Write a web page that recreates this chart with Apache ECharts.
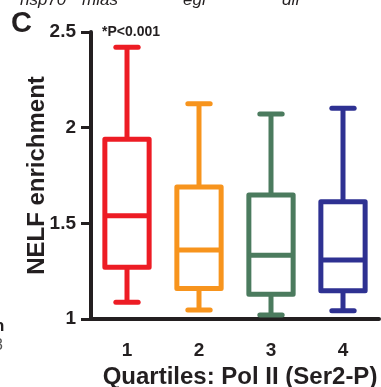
<!DOCTYPE html>
<html>
<head>
<meta charset="utf-8">
<script src="https://cdn.jsdelivr.net/npm/echarts@6/dist/echarts.min.js"></script>
<style>
html,body{margin:0;padding:0;background:#fff;}
#chart{width:381px;height:387px;}
</style>
</head>
<body>
<div id="chart"></div>
<script>
const categories = ['1', '2', '3', '4'];
const lowerWhisker = [1.087, 1.047, 1.021, 1.043];
const q1Values = [1.27, 1.16, 1.13, 1.148];
const medianValues = [1.54, 1.36, 1.333, 1.308];
const q3Values = [1.94, 1.69, 1.648, 1.613];
const upperWhisker = [2.42, 2.125, 2.071, 2.102];
const boxColors = ['#ED1C24', '#F7941D', '#4B7B5E', '#2E3192'];
const yTickLabels = ['1', '1.5', '2', '2.5'];

const FONT = '"Liberation Sans", Arial, sans-serif';
const AXIS_COLOR = '#231F20';

const chart = echarts.init(document.getElementById('chart'), null, {renderer: 'canvas'});

const seriesData = categories.map((c, i) => [i, lowerWhisker[i], q1Values[i], medianValues[i], q3Values[i], upperWhisker[i]]);

function renderItem(params, api) {
  const i = api.value(0);
  const color = boxColors[i];
  const lo = api.coord([i, api.value(1)]);
  const q1 = api.coord([i, api.value(2)]);
  const med = api.coord([i, api.value(3)]);
  const q3 = api.coord([i, api.value(4)]);
  const hi = api.coord([i, api.value(5)]);
  const band = api.size([1, 0])[0];
  const boxW = band * 0.615;
  const capW = band * 0.31;
  const cx = lo[0];
  const lw = 5;
  const st = {stroke: color, lineWidth: lw, fill: 'none', lineJoin: 'round'};
  const stCap = {stroke: color, lineWidth: lw, lineCap: 'round'};
  return {
    type: 'group',
    children: [
      {type: 'line', shape: {x1: cx, y1: q3[1], x2: cx, y2: hi[1]}, style: st},
      {type: 'line', shape: {x1: cx, y1: q1[1], x2: cx, y2: lo[1]}, style: st},
      {type: 'line', shape: {x1: cx - capW / 2, y1: hi[1], x2: cx + capW / 2, y2: hi[1]}, style: stCap},
      {type: 'line', shape: {x1: cx - capW / 2, y1: lo[1], x2: cx + capW / 2, y2: lo[1]}, style: stCap},
      {type: 'rect', shape: {x: cx - boxW / 2, y: q3[1], width: boxW, height: q1[1] - q3[1]}, style: st},
      {type: 'line', shape: {x1: cx - boxW / 2, y1: med[1], x2: cx + boxW / 2, y2: med[1]}, style: st}
    ]
  };
}

const option = {
  backgroundColor: '#ffffff',
  animation: false,
  grid: {left: 91, right: 2, top: 32, bottom: 68, containLabel: false, outerBoundsMode: 'none'},
  xAxis: {
    type: 'category',
    data: categories,
    name: 'Quartiles: Pol II (Ser2-P)',
    nameLocation: 'middle',
    nameGap: 46,
    nameTextStyle: {fontFamily: FONT, fontWeight: 'bold', fontSize: 24, color: AXIS_COLOR, padding: [0, 0, 0, 10]},
    axisLine: {lineStyle: {color: AXIS_COLOR, width: 4}},
    axisTick: {alignWithLabel: true, length: 12, lineStyle: {color: AXIS_COLOR, width: 4}},
    axisLabel: {fontFamily: FONT, fontWeight: 'bold', fontSize: 19, color: AXIS_COLOR, margin: 22},
    splitLine: {show: false}
  },
  yAxis: {
    type: 'value',
    min: 1,
    max: 2.5,
    interval: 0.5,
    name: 'NELF enrichment',
    nameLocation: 'middle',
    nameGap: 42,
    nameMoveOverlap: false,
    nameTextStyle: {fontFamily: FONT, fontWeight: 'bold', fontSize: 24, color: AXIS_COLOR},
    axisLine: {show: true, lineStyle: {color: AXIS_COLOR, width: 4}},
    axisTick: {show: true, length: 10, lineStyle: {color: AXIS_COLOR, width: 3}},
    axisLabel: {
      fontFamily: FONT, fontWeight: 'bold', fontSize: 19, color: AXIS_COLOR, margin: 15,
      formatter: function (v) { return yTickLabels[Math.round((v - 1) / 0.5)]; }
    },
    splitLine: {show: false}
  },
  series: [{
    type: 'custom',
    renderItem: renderItem,
    encode: {x: 0, y: [1, 2, 3, 4, 5]},
    data: seriesData,
    clip: false
  }],
  graphic: [
    {type: 'text', left: 11, top: 9, style: {text: 'C', font: 'bold 29px ' + FONT, fill: AXIS_COLOR}},
    {type: 'text', left: 102, top: 25, style: {text: '*P<0.001', font: 'bold 14px ' + FONT, fill: AXIS_COLOR}},
    {type: 'text', left: 20, top: -8, style: {text: 'hsp70', font: 'italic 17px ' + FONT, fill: AXIS_COLOR}},
    {type: 'text', left: 82, top: -8, style: {text: 'mlas', font: 'italic 17px ' + FONT, fill: AXIS_COLOR}},
    {type: 'text', left: 183, top: -8, style: {text: 'egr', font: 'italic 17px ' + FONT, fill: AXIS_COLOR}},
    {type: 'text', left: 282, top: -8, style: {text: 'dif', font: 'italic 17px ' + FONT, fill: AXIS_COLOR}},
    {type: 'text', left: -6, top: 318, style: {text: 'n', font: 'bold 17px ' + FONT, fill: AXIS_COLOR}},
    {type: 'text', left: -6, top: 338, style: {text: '3', font: '16px ' + FONT, fill: '#555555'}}
  ]
};
chart.setOption(option);
</script>
</body>
</html>
